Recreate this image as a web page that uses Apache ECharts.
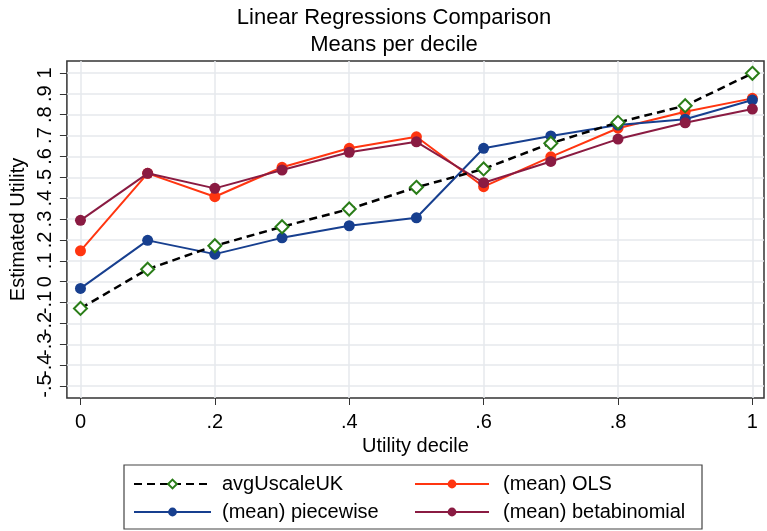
<!DOCTYPE html>
<html>
<head>
<meta charset="utf-8">
<script src="https://cdn.jsdelivr.net/npm/echarts@6/dist/echarts.min.js"></script>
<style>html,body{margin:0;padding:0;background:#fff}#c{width:767px;height:531px}</style>
</head>
<body>
<div id="c"></div>
<script>
var deciles = [0, 0.1, 0.2, 0.3, 0.4, 0.5, 0.6, 0.7, 0.8, 0.9, 1];
var avgUscaleUK = [-0.128, 0.060, 0.172, 0.263, 0.348, 0.452, 0.540, 0.663, 0.763, 0.843, 0.998];
var olsMean = [0.148, 0.519, 0.407, 0.548, 0.639, 0.694, 0.455, 0.598, 0.735, 0.814, 0.878];
var piecewiseMean = [-0.032, 0.198, 0.132, 0.210, 0.268, 0.306, 0.639, 0.698, 0.750, 0.778, 0.870];
var betabinomialMean = [0.294, 0.519, 0.447, 0.535, 0.620, 0.670, 0.474, 0.576, 0.683, 0.761, 0.827];
var xTicks = [0, 0.2, 0.4, 0.6, 0.8, 1];
var yTicks = [-0.5, -0.4, -0.3, -0.2, -0.1, 0, 0.1, 0.2, 0.3, 0.4, 0.5, 0.6, 0.7, 0.8, 0.9, 1];
var yTicksOdd = [-0.5, -0.3, -0.1, 0.1, 0.3, 0.5, 0.7, 0.9];
var yTicksEven = [-0.4, -0.2, 0, 0.2, 0.4, 0.6, 0.8, 1];

function pair(vals) { return deciles.map(function (d, i) { return [d, vals[i]]; }); }
function fmt(v) {
  var r = Math.round(v * 10) / 10;
  if (r === 0) return '0';
  if (r === 1) return '1';
  var s = r.toFixed(1);
  return s.replace('0.', '.');
}
var FONT = 'Liberation Sans, Arial, sans-serif';
var Y_MIN = -0.557, Y_MAX = 1.057;
var chart = echarts.init(document.getElementById('c'), null, { renderer: 'canvas' });
var option = {
  animation: false,
  backgroundColor: '#ffffff',
  title: [
    { text: 'Linear Regressions Comparison', left: 394, top: 7, textAlign: 'center', padding: 0,
      textStyle: { fontFamily: FONT, fontSize: 22, fontWeight: 'normal', color: '#000' } },
    { text: 'Means per decile', left: 394, top: 34, textAlign: 'center', padding: 0,
      textStyle: { fontFamily: FONT, fontSize: 22, fontWeight: 'normal', color: '#000' } }
  ],
  grid: { left: 62, right: 3, top: 61, bottom: 133, show: true, borderColor: '#333', borderWidth: 1.5, containLabel: false },
  xAxis: {
    type: 'value', min: -0.0202, max: 1.0173,
    name: 'Utility decile', nameLocation: 'middle', nameGap: 31,
    nameTextStyle: { fontFamily: FONT, fontSize: 20, color: '#000' },
    axisLine: { show: false, onZero: false },
    axisTick: { show: true, customValues: xTicks, length: 7, lineStyle: { color: '#333' } },
    axisLabel: { customValues: xTicks, formatter: fmt, fontFamily: FONT, fontSize: 20, color: '#000', margin: 14 },
    splitLine: { show: true, customValues: xTicks, lineStyle: { color: '#e6e9ec', width: 1.5 } }
  },
  yAxis: [
    {
      type: 'value', min: Y_MIN, max: Y_MAX, position: 'left', offset: 0,
      name: 'Estimated Utility', nameLocation: 'middle', nameGap: 38,
      nameTextStyle: { fontFamily: FONT, fontSize: 20, color: '#000' },
      axisLine: { show: false, onZero: false },
      axisTick: { show: true, customValues: yTicks, length: 7, lineStyle: { color: '#333' } },
      axisLabel: { customValues: yTicksOdd, formatter: fmt, rotate: 90, fontFamily: FONT, fontSize: 20, color: '#000', margin: 11 },
      splitLine: { show: true, customValues: yTicks, lineStyle: { color: '#e6e9ec', width: 1.5 } }
    },
    {
      type: 'value', min: Y_MIN, max: Y_MAX, position: 'left', offset: 0,
      axisLine: { show: false, onZero: false },
      axisTick: { show: false },
      axisLabel: { customValues: yTicksEven, formatter: fmt, rotate: 90, fontFamily: FONT, fontSize: 20, color: '#000', margin: 11 },
      splitLine: { show: false }
    }
  ],
  legend: [
    { orient: 'vertical', left: 133, top: 474, padding: 0, itemWidth: 77, itemHeight: 11, itemGap: 8,
      textStyle: { fontFamily: FONT, fontSize: 20, color: '#000', padding: [0, 0, 0, 6] },
      data: ['avgUscaleUK', '(mean) piecewise'] },
    { orient: 'vertical', left: 414, top: 474, padding: 0, itemWidth: 74, itemHeight: 11, itemGap: 8,
      textStyle: { fontFamily: FONT, fontSize: 20, color: '#000', padding: [0, 0, 0, 9] },
      data: ['(mean) OLS', '(mean) betabinomial'] }
  ],
  graphic: [
    { type: 'rect', shape: { x: 124, y: 465, width: 578, height: 64 },
      style: { fill: 'none', stroke: '#444', lineWidth: 1.2 }, silent: true }
  ],
  series: [
    { name: 'avgUscaleUK', type: 'line', data: pair(avgUscaleUK), z: 5, yAxisIndex: 0,
      symbol: 'diamond', symbolSize: 13,
      itemStyle: { color: '#ffffff', borderColor: '#2a7d18', borderWidth: 2 },
      lineStyle: { color: '#000', width: 2.5, type: [8, 5] } },
    { name: '(mean) OLS', type: 'line', data: pair(olsMean), z: 2, yAxisIndex: 0,
      symbol: 'circle', symbolSize: 11,
      itemStyle: { color: '#ff3510' }, lineStyle: { color: '#ff3510', width: 2 } },
    { name: '(mean) piecewise', type: 'line', data: pair(piecewiseMean), z: 3, yAxisIndex: 0,
      symbol: 'circle', symbolSize: 11,
      itemStyle: { color: '#173f8f' }, lineStyle: { color: '#173f8f', width: 2 } },
    { name: '(mean) betabinomial', type: 'line', data: pair(betabinomialMean), z: 4, yAxisIndex: 0,
      symbol: 'circle', symbolSize: 11,
      itemStyle: { color: '#8a1b42' }, lineStyle: { color: '#8a1b42', width: 2 } }
  ]
};
chart.setOption(option);
</script>
</body>
</html>
